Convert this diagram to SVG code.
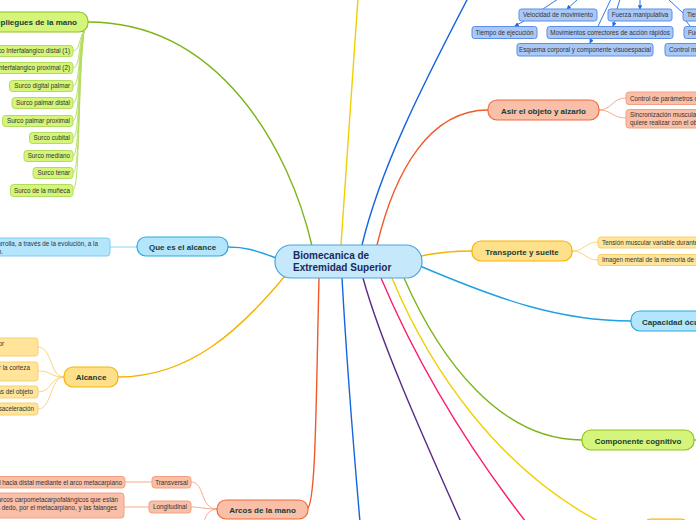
<svg xmlns="http://www.w3.org/2000/svg" width="696" height="520" viewBox="0 0 696 520">
<defs>
<marker id="ah" viewBox="0 0 6 6" refX="5" refY="3" markerWidth="5" markerHeight="5" orient="auto"><path d="M0,0 L6,3 L0,6 z" fill="#1a6be0"/></marker>
</defs>
<style>
text{font-family:"Liberation Sans",Arial,sans-serif}
.mt{font-size:8px;font-weight:bold;fill:#173d35}
.ct{font-size:6.3px;fill:#333}
.c{fill:none;stroke-width:1.4}
.s{fill:none;stroke-width:0.9}
.gr{fill:#d4f57a;stroke:#8dc21f}
.grc{fill:#d4f57a;stroke:#b2dc5e}
.bl{fill:#b3e5fc;stroke:#29a9e0}
.blc{fill:#b3e5fc;stroke:#7fcdf0}
.ye{fill:#ffe08a;stroke:#f5b400}
.yec{fill:#ffe49a;stroke:#f7d070}
.or{fill:#f9bfa8;stroke:#f26b3a}
.orc{fill:#f9bfa8;stroke:#f4a080}
.tb{fill:#a9c8f8;stroke:#5a8ee8}
</style>
<g id="connectors">
<path class="c" stroke="#7cb518" d="M312,246 C290,150 220,22 88,22"/>
<path class="c" stroke="#1ea1e0" d="M276,258 C255,250 245,247 228,247"/>
<path class="c" stroke="#f5b400" d="M285,276 C240,330 190,377 118,377"/>
<path class="c" stroke="#f05a28" d="M319,278 C316,400 316,506 307,509"/>
<path class="c" stroke="#f05a28" d="M377,245 C395,170 430,110 488,110"/>
<path class="c" stroke="#f5b400" d="M421,256 C440,252 455,251 472,251"/>
<path class="c" stroke="#1ea1e0" d="M420,266 C500,300 560,321 631,321"/>
<path class="c" stroke="#7cb518" d="M404,278 C440,360 500,440 582,440"/>
<path class="c" stroke="#f0d000" d="M392,278 C430,370 500,470 600,522"/>
<path class="c" stroke="#ff1a6e" d="M381,278 C420,370 470,450 526,522"/>
<path class="c" stroke="#5b2a86" d="M363,278 C380,340 420,430 461,522"/>
<path class="c" stroke="#1565e0" d="M342,278 C346,350 352,430 360,522"/>
<path class="c" stroke="#f0d000" d="M341,245 C346,180 352,80 358,-2"/>
<path class="c" stroke="#1565e0" d="M362,245 C380,170 420,90 468,-2"/>
<path class="c" stroke="#8dc21f" d="M694,440 L700,440"/>
<g stroke="#b2dc5e">
<path class="s" d="M84,31 C78,40 80,51 73,51"/>
<path class="s" d="M84,31 C78,45 80,68 73,68"/>
<path class="s" d="M84,31 C78,50 80,86 73,86"/>
<path class="s" d="M84,31 C78,55 80,103 73,103"/>
<path class="s" d="M84,31 C78,60 80,121 73,121"/>
<path class="s" d="M84,31 C78,65 80,138 73,138"/>
<path class="s" d="M84,31 C78,70 80,156 73,156"/>
<path class="s" d="M84,31 C78,75 80,173 73,173"/>
<path class="s" d="M84,31 C78,80 80,190 73,190"/>
</g>
<path class="s" stroke="#7fcdf0" d="M137,247 L110,247"/>
<g stroke="#f7d070">
<path class="s" d="M64,377 C50,377 52,347 38,347"/>
<path class="s" d="M64,377 C50,377 52,371 38,371"/>
<path class="s" d="M64,377 C50,377 52,392 38,392"/>
<path class="s" d="M64,377 C50,377 52,409 38,409"/>
</g>
<g stroke="#f4a080">
<path class="s" d="M217,509 C200,509 205,482 191,482"/>
<path class="s" d="M217,509 C205,509 200,507 191,507"/>
<path class="s" d="M217,509 C208,510 206,515 204,522"/>
<path class="s" d="M152,482 L125,482"/>
<path class="s" d="M149,507 L124,507"/>
<path class="s" d="M599,110 C612,110 612,98 626,98"/>
<path class="s" d="M599,110 C612,110 612,118 626,118"/>
</g>
<g stroke="#f7d070">
<path class="s" d="M572,251 C585,251 585,242 598,242"/>
<path class="s" d="M572,251 C585,251 585,260 598,260"/>
</g>
<g stroke="#1a6be0" stroke-width="0.9" fill="none">
<path d="M558,-1 L543,9"/>
<path d="M578,-1 L567,9" marker-end="url(#ah)"/>
<path d="M524,21 L515,26" marker-end="url(#ah)"/>
<path d="M640,-1 L640,9" marker-end="url(#ah)"/>
<path d="M620,-1 L617,9"/>
<path d="M615,21 L613,26" marker-end="url(#ah)"/>
<path d="M611,-1 L590,43" marker-end="url(#ah)"/>
<path d="M668,-1 L683,13"/>
<path d="M686,21 L690,26"/>
</g>
</g>
<g id="center">
<rect x="275" y="245" width="147" height="33" rx="16" fill="#c5e8fb" stroke="#4aa3df" stroke-width="1.2"/>
<text x="293" y="259" font-size="10" font-weight="bold" fill="#1b2a5a">Biomecanica de</text>
<text x="293" y="271" font-size="10" font-weight="bold" fill="#1b2a5a">Extremidad Superior</text>
</g>
<g id="pliegues">
<rect class="gr" x="-20" y="12" width="108" height="20" rx="9" stroke-width="1.2"/>
<text class="mt" x="77" y="25" text-anchor="end">Repliegues de la mano</text>
</g>
<g id="pl1"><rect class="grc" x="-40" y="45.5" width="113" height="11" rx="3"/><text class="ct" x="70" y="53.3" text-anchor="end">Surco Interfalangico distal (1)</text></g>
<g id="pl2"><rect class="grc" x="-40" y="62.5" width="113" height="11" rx="3"/><text class="ct" x="70" y="70.3" text-anchor="end">Surco Interfalangico proximal (2)</text></g>
<g id="pl3"><rect class="grc" x="9.5" y="80.5" width="63.5" height="11" rx="3"/><text class="ct" x="70" y="88.3" text-anchor="end">Surco digital palmar</text></g>
<g id="pl4"><rect class="grc" x="12" y="97.5" width="61" height="11" rx="3"/><text class="ct" x="70" y="105.3" text-anchor="end">Surco palmar distal</text></g>
<g id="pl5"><rect class="grc" x="2.5" y="115.5" width="70.5" height="11" rx="3"/><text class="ct" x="70" y="123.3" text-anchor="end">Surco palmar proximal</text></g>
<g id="pl6"><rect class="grc" x="29.5" y="132.5" width="43.5" height="11" rx="3"/><text class="ct" x="70" y="140.3" text-anchor="end">Surco cubital</text></g>
<g id="pl7"><rect class="grc" x="24" y="150.5" width="49" height="11" rx="3"/><text class="ct" x="70" y="158.3" text-anchor="end">Surco mediano</text></g>
<g id="pl8"><rect class="grc" x="33" y="167.5" width="40" height="11" rx="3"/><text class="ct" x="70" y="175.3" text-anchor="end">Surco tenar</text></g>
<g id="pl9"><rect class="grc" x="10.5" y="184.5" width="62.5" height="12" rx="3"/><text class="ct" x="70" y="192.8" text-anchor="end">Surco de la muñeca</text></g>
<g id="quees">
<rect class="bl" x="137" y="237" width="91" height="19" rx="9" stroke-width="1.2"/>
<text class="mt" x="182.5" y="250" text-anchor="middle">Que es el alcance</text>
</g>
<g id="quees1">
<rect class="blc" x="-60" y="238" width="170" height="18" rx="3"/>
<text class="ct" x="98" y="246" text-anchor="end">Se desarrolla, a través de la evolución, a la</text>
<text class="ct" x="3" y="253.5" text-anchor="end">prensión.</text>
</g>
<g id="alcance">
<rect class="ye" x="64" y="367" width="54" height="20" rx="9" stroke-width="1.2"/>
<text class="mt" x="91" y="380" text-anchor="middle">Alcance</text>
</g>
<g id="al1"><rect class="yec" x="-60" y="338" width="98" height="18" rx="3"/><text class="ct" x="4" y="346" text-anchor="end">Depende del miembro superior</text></g>
<g id="al2"><rect class="yec" x="-60" y="362" width="98" height="19" rx="3"/><text class="ct" x="30" y="370" text-anchor="end">Programado por la corteza</text></g>
<g id="al3"><rect class="yec" x="-60" y="386" width="98" height="12" rx="3"/><text class="ct" x="33" y="394.2" text-anchor="end">Según las características del objeto</text></g>
<g id="al4"><rect class="yec" x="-60" y="403" width="98" height="12" rx="3"/><text class="ct" x="34" y="411.2" text-anchor="end">Aceleración y desaceleración</text></g>
<g id="arcos">
<rect class="or" x="217" y="500" width="91" height="19" rx="9" stroke-width="1.2"/>
<text class="mt" x="262.5" y="513" text-anchor="middle">Arcos de la mano</text>
</g>
<g id="transversal"><rect class="orc" x="152" y="476.5" width="39" height="11.5" rx="3"/><text class="ct" x="171.5" y="484.5" text-anchor="middle">Transversal</text></g>
<g id="longitudinal"><rect class="orc" x="149" y="501" width="42" height="12" rx="3"/><text class="ct" x="170" y="509.2" text-anchor="middle">Longitudinal</text></g>
<g id="tr1"><rect class="orc" x="-100" y="476.5" width="225" height="11.5" rx="3"/><text class="ct" x="122" y="484.5" text-anchor="end">Se curva de proximal hacia distal mediante el arco metacarpiano</text></g>
<g id="lo1"><rect class="orc" x="-100" y="493" width="224" height="25" rx="3"/>
<text class="ct" x="118" y="501.5" text-anchor="end">Formados por los arcos carpometacarpofalángicos que están</text>
<text class="ct" x="117" y="510" text-anchor="end">constituidos por cada dedo, por el metacarpiano, y las falanges</text></g>
<g id="asir">
<rect class="or" x="488" y="100" width="111" height="20" rx="9" stroke-width="1.2"/>
<text class="mt" x="543.5" y="113.5" text-anchor="middle">Asir el objeto y alzarlo</text>
</g>
<g id="as1"><rect class="orc" x="626" y="92" width="120" height="12.5" rx="3"/><text class="ct" x="630" y="100.5">Control de parámetros de la fuerza</text></g>
<g id="as2"><rect class="orc" x="626" y="109.5" width="120" height="18.5" rx="3"/>
<text class="ct" x="630" y="117">Sincronización muscular según lo que se</text>
<text class="ct" x="630" y="125">quiere realizar con el objeto</text></g>
<g id="transporte">
<rect class="ye" x="472" y="241" width="100" height="20" rx="9" stroke-width="1.2"/>
<text class="mt" x="522" y="254.5" text-anchor="middle">Transporte y suelte</text>
</g>
<g id="tr-a"><rect class="yec" x="598" y="237" width="120" height="11" rx="3"/><text class="ct" x="602" y="244.8">Tensión muscular variable durante el transporte</text></g>
<g id="tr-b"><rect class="yec" x="598" y="254.5" width="120" height="11" rx="3"/><text class="ct" x="602" y="262.3">Imagen mental de la memoria de la tarea</text></g>
<g id="capacidad">
<rect class="bl" x="631" y="311" width="110" height="20" rx="9" stroke-width="1.2"/>
<text class="mt" x="642" y="324.5">Capacidad óculo-manual</text>
</g>
<g id="cognitivo">
<rect class="gr" x="582" y="430" width="112" height="20" rx="9" stroke-width="1.2"/>
<text class="mt" x="638" y="443.5" text-anchor="middle">Componente cognitivo</text>
</g>
<g id="bottomnode">
<rect class="ye" x="646" y="519" width="40" height="20" rx="4" stroke="#f0d000"/>
</g>
<g id="t-vel"><rect class="tb" x="519" y="9" width="78" height="12" rx="2.5"/><text class="ct" x="558" y="17.3" text-anchor="middle">Velocidad de movimiento</text></g>
<g id="t-fue"><rect class="tb" x="608" y="9" width="64" height="12" rx="2.5"/><text class="ct" x="640" y="17.3" text-anchor="middle">Fuerza manipulativa</text></g>
<g id="t-tie2"><rect class="tb" x="683" y="9" width="40" height="12" rx="2.5"/><text class="ct" x="687" y="17.3">Tiempo</text></g>
<g id="t-tie"><rect class="tb" x="472" y="26.5" width="65" height="12" rx="2.5"/><text class="ct" x="504.5" y="34.7" text-anchor="middle">Tiempo de ejecución</text></g>
<g id="t-mov"><rect class="tb" x="547" y="26.5" width="126" height="12" rx="2.5"/><text class="ct" x="610" y="34.7" text-anchor="middle">Movimientos correctores de acción rápidos</text></g>
<g id="t-fu2"><rect class="tb" x="684" y="26.5" width="40" height="12" rx="2.5"/><text class="ct" x="688" y="34.7">Fuerza</text></g>
<g id="t-esq"><rect class="tb" x="517" y="43.5" width="136" height="12.5" rx="2.5"/><text class="ct" x="585" y="52" text-anchor="middle">Esquema corporal y componente visuoespacial</text></g>
<g id="t-con"><rect class="tb" x="665" y="43.5" width="60" height="12.5" rx="2.5"/><text class="ct" x="669" y="52">Control motor</text></g>
</svg>
